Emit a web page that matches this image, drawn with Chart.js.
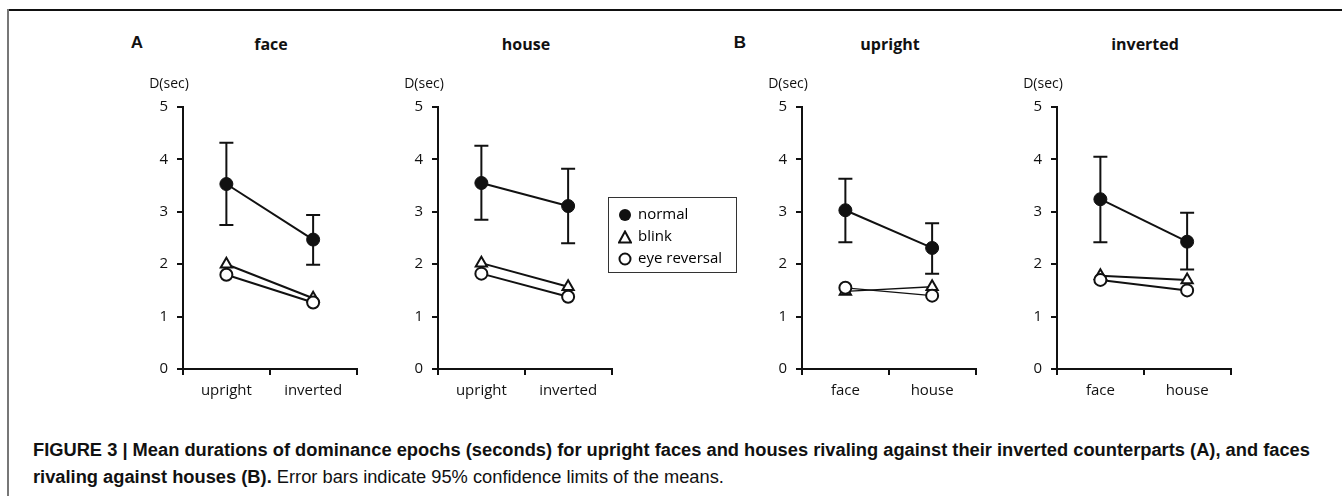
<!DOCTYPE html>
<html>
<head>
  <title>Mean durations of dominance epochs</title>
  <style>
    body { margin: 0; background: #fff; width: 1342px; height: 496px; position: relative; overflow: hidden; font-family: "Open Sans", sans-serif; }
    .frame-top { position: absolute; left: 8px; top: 9px; width: 1334px; height: 2px; background: #111; }
    .frame-left { position: absolute; left: 7px; top: 9px; width: 2px; height: 487px; background: #777; }
    canvas { position: absolute; }
    .lbl { position: absolute; transform: translate(-50%, -50%); white-space: nowrap; color: #111; }
    .panel { font-family: Arial, "Liberation Sans", sans-serif; font-weight: bold; font-size: 17px; }
    .title { font-weight: bold; font-size: 16px; }
    .unit { font-size: 14px; }
    #legend { position: absolute; left: 608px; top: 197px; width: 127px; height: 74px; border: 1px solid #333; font-size: 15px; }
    #legend div { position: absolute; left: 9px; height: 20px; line-height: 20px; }
    #legend svg { vertical-align: middle; margin-right: 6px; }
    #caption { position: absolute; left: 33px; top: 436px; font-family: "Liberation Sans Narrow", "Arial Narrow", "Liberation Sans", sans-serif; font-size: 18.3px; line-height: 27px; color: #111; white-space: nowrap; }
    #caption b { font-weight: bold; }
  </style>
</head>
<body>

  <div class="frame-top"></div>
  <div class="frame-left"></div>

  <div class="lbl panel" style="left:137px; top:43px">A</div>
  <div class="lbl panel" style="left:740px; top:43px">B</div>

  <canvas id="chart_face" width="222" height="324"></canvas>
  <canvas id="chart_house" width="222" height="324"></canvas>
  <canvas id="chart_upright" width="222" height="324"></canvas>
  <canvas id="chart_inverted" width="222" height="324"></canvas>

  <div id="legend">
    <div style="top:5px"><svg width="14" height="14"><circle cx="7" cy="7" r="6" fill="#111"/></svg>normal</div>
    <div style="top:27px"><svg width="14" height="14"><polygon points="7,1.5 13,12.5 1,12.5" fill="#fff" stroke="#111" stroke-width="2"/></svg>blink</div>
    <div style="top:49px"><svg width="14" height="14"><circle cx="7" cy="7" r="5.5" fill="#fff" stroke="#111" stroke-width="2"/></svg>eye reversal</div>
  </div>

  <div id="caption"><b>FIGURE 3 | Mean durations of dominance epochs (seconds) for upright faces and houses rivaling against their inverted counterparts (A), and faces</b><br><b>rivaling against houses (B).</b> Error bars indicate 95% confidence limits of the means.</div>

  <script src="https://cdn.jsdelivr.net/npm/chart.js@4.4.0/dist/chart.umd.min.js"></script>
  <script>
    // Panel titles and category labels
    const panelTitles = ["face", "house", "upright", "inverted"];
    const labelsA = ["upright", "inverted"];
    const labelsB = ["face", "house"];
    const seriesNames = ["normal", "blink", "eye reversal"];
    const yTicks = [0, 1, 2, 3, 4, 5];

    // A: face
    const faceNormal = [3.53, 2.47];
    const faceNormalLow = [2.75, 1.99];
    const faceNormalHigh = [4.32, 2.94];
    const faceBlink = [2.00, 1.35];
    const faceEye = [1.80, 1.27];

    // A: house
    const houseNormal = [3.55, 3.11];
    const houseNormalLow = [2.85, 2.40];
    const houseNormalHigh = [4.26, 3.82];
    const houseBlink = [2.02, 1.57];
    const houseEye = [1.82, 1.38];

    // B: upright
    const uprightNormal = [3.03, 2.31];
    const uprightNormalLow = [2.42, 1.82];
    const uprightNormalHigh = [3.63, 2.78];
    const uprightBlink = [1.48, 1.57];
    const uprightEye = [1.55, 1.40];

    // B: inverted
    const invertedNormal = [3.24, 2.43];
    const invertedNormalLow = [2.42, 1.90];
    const invertedNormalHigh = [4.05, 2.98];
    const invertedBlink = [1.78, 1.70];
    const invertedEye = [1.70, 1.50];

    const ink = "#111";

    // error bars for the "normal" series, drawn through the scales
    const errorBars = {
      id: "errorBars",
      beforeDatasetsDraw(chart, args, opts) {
        const ctx = chart.ctx;
        const xs = chart.scales.x, ys = chart.scales.y;
        ctx.save();
        ctx.strokeStyle = ink;
        ctx.lineWidth = 2;
        opts.low.forEach(function (lo, i) {
          const x = xs.getPixelForValue(i);
          const y1 = ys.getPixelForValue(lo);
          const y2 = ys.getPixelForValue(opts.high[i]);
          ctx.beginPath();
          ctx.moveTo(x, y1); ctx.lineTo(x, y2);
          ctx.moveTo(x - 7, y1); ctx.lineTo(x + 7, y1);
          ctx.moveTo(x - 7, y2); ctx.lineTo(x + 7, y2);
          ctx.stroke();
        });
        ctx.restore();
      }
    };

    function makePanel(id, axisX, title, labels, normal, low, high, blink, eye, thinLow) {
      const el = document.getElementById(id);
      el.style.left = (axisX - 40) + "px";
      el.style.top = "89px";

      // title and unit label as page text
      const t = document.createElement("div");
      t.className = "lbl title";
      t.style.left = (axisX + 88) + "px";
      t.style.top = "44px";
      t.textContent = title;
      document.body.appendChild(t);
      const u = document.createElement("div");
      u.className = "lbl unit";
      u.style.left = (axisX - 14) + "px";
      u.style.top = "82px";
      u.textContent = "D(sec)";
      document.body.appendChild(u);

      const lowWidth = thinLow ? 1.3 : 2;

      new Chart(el, {
        type: "line",
        data: {
          labels: labels,
          datasets: [{
            label: seriesNames[0],
            data: normal,
            borderColor: ink,
            borderWidth: 2,
            pointStyle: "circle",
            pointRadius: 6.5,
            pointBackgroundColor: ink,
            pointBorderColor: ink,
            pointBorderWidth: 1,
            order: 2
          }, {
            label: seriesNames[1],
            data: blink,
            borderColor: ink,
            borderWidth: lowWidth,
            pointStyle: "triangle",
            pointRadius: 6.5,
            pointBackgroundColor: "#fff",
            pointBorderColor: ink,
            pointBorderWidth: 2,
            order: 1
          }, {
            label: seriesNames[2],
            data: eye,
            borderColor: ink,
            borderWidth: lowWidth,
            pointStyle: "circle",
            pointRadius: 6,
            pointBackgroundColor: "#fff",
            pointBorderColor: ink,
            pointBorderWidth: 2,
            order: 0
          }]
        },
        options: {
          responsive: false,
          animation: false,
          clip: false,
          layout: { padding: { top: 12, right: 8, bottom: 4, left: 0 } },
          plugins: {
            legend: { display: false },
            tooltip: { enabled: false },
            errorBars: { low: low, high: high }
          },
          scales: {
            x: {
              type: "category",
              offset: true,
              afterFit(scale) { scale.height = 40; },
              grid: { offset: true, drawOnChartArea: false, drawTicks: true, tickLength: 6, color: ink, lineWidth: 2 },
              border: { display: true, color: ink, width: 2 },
              ticks: { color: ink, padding: 7, font: { family: "Open Sans", size: 15 } }
            },
            y: {
              min: 0,
              max: 5,
              afterFit(scale) { scale.width = 40; },
              afterBuildTicks(scale) { scale.ticks = yTicks.map(function (v) { return { value: v }; }); },
              grid: { drawOnChartArea: false, drawTicks: true, tickLength: 6, color: ink, lineWidth: 2 },
              border: { display: true, color: ink, width: 2 },
              ticks: { color: ink, padding: 9, font: { family: "Open Sans", size: 15 } }
            }
          }
        },
        plugins: [errorBars]
      });
    }

    makePanel("chart_face", 183, panelTitles[0], labelsA, faceNormal, faceNormalLow, faceNormalHigh, faceBlink, faceEye, false);
    makePanel("chart_house", 438, panelTitles[1], labelsA, houseNormal, houseNormalLow, houseNormalHigh, houseBlink, houseEye, false);
    makePanel("chart_upright", 802, panelTitles[2], labelsB, uprightNormal, uprightNormalLow, uprightNormalHigh, uprightBlink, uprightEye, true);
    makePanel("chart_inverted", 1057, panelTitles[3], labelsB, invertedNormal, invertedNormalLow, invertedNormalHigh, invertedBlink, invertedEye, false);
  </script>

</body>
</html>
